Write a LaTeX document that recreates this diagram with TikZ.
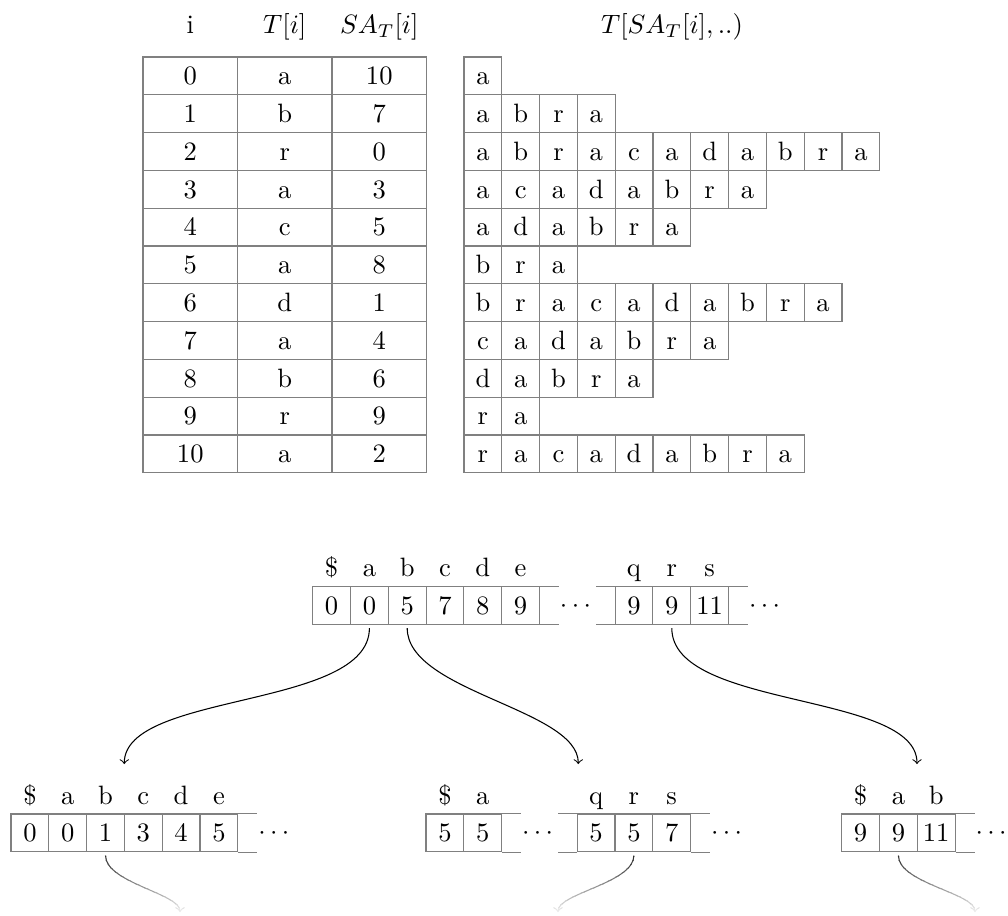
\documentclass[tikz,border=0pt]{standalone}
\begin{document}
\begin{tikzpicture}[x=0.013228cm, y=-0.013228cm,
  cell/.style={draw=black!50, minimum width=0.5cm, minimum height=0.5cm,
    inner sep=0pt, text height=6.6pt, text depth=0pt, anchor=center},
  wide/.style={cell, minimum width=1.25cm},
  lbl/.style={anchor=base, inner sep=0pt},
  stub/.style={draw=black!50},
  dotsnode/.style={anchor=base west, inner sep=0.4pt},
  link/.style={->, line width=0.4pt, shorten <=1.2pt, shorten >=4.5pt,
    looseness=0.75},
  glink/.style={link},
]
\useasboundingbox (0,0) rectangle (1008,916);

% column headers
\node[lbl] (hI)  at (190.25,33.5) {i};
\node[lbl] (hT)  at (284.75,33.5) {$T[i]$};
\node[lbl] (hSA) at (379.25,33.5) {$SA_T[i]$};
\node[lbl] (hSuf) at (672,33.5) {$T[SA_T[i],..)$};

% text and suffix array
\foreach \t/\s [count=\r from 0] in {a/10,b/7,r/0,a/3,c/5,a/8,d/1,a/4,b/6,r/9,a/2} {
  \node[wide] (L-\r-0) at (190.25,{75.9+37.8*\r}) {\r};
  \node[wide] (L-\r-1) at (284.75,{75.9+37.8*\r}) {\t};
  \node[wide] (L-\r-2) at (379.25,{75.9+37.8*\r}) {\s};
}

% sorted suffixes
\foreach \row [count=\r from 0] in {{a},{a,b,r,a},{a,b,r,a,c,a,d,a,b,r,a},
    {a,c,a,d,a,b,r,a},{a,d,a,b,r,a},{b,r,a},{b,r,a,c,a,d,a,b,r,a},
    {c,a,d,a,b,r,a},{d,a,b,r,a},{r,a},{r,a,c,a,d,a,b,r,a}} {
  \foreach \ch [count=\j from 0] in \row {
    \node[cell] (S-\r-\j) at ({482.9+37.8*\j},{75.9+37.8*\r}) {\ch};
  }
}

% first-level count array
\foreach \v/\l [count=\k from 0] in {0/\$,0/a,5/b,7/c,8/d,9/e} {
  \node[cell] (A\k) at ({331.6+37.8*\k},605.5) {\v};
  \node[lbl] (Al\k) at ({331.6+37.8*\k},576.7) {\l};
}
\draw[stub] (A5.north east) -- ++(18.9,0) (A5.south east) -- ++(18.9,0);
\node[dotsnode] (Ad1) at (558.4,612.1) {$\cdots$};
\foreach \v/\l [count=\k from 6] in {9/q,9/r,11/s} {
  \node[cell] (A\k) at ({634-37.8*6+37.8*\k},605.5) {\v};
  \node[lbl] (Al\k) at ({634-37.8*6+37.8*\k},576.7) {\l};
}
\draw[stub] (A6.north west) -- ++(-18.9,0) (A6.south west) -- ++(-18.9,0);
\draw[stub] (A8.north east) -- ++(18.9,0) (A8.south east) -- ++(18.9,0);
\node[dotsnode] (Ad2) at (747.4,612.1) {$\cdots$};

% second-level array for a
\foreach \v/\l [count=\k from 0] in {0/\$,0/a,1/b,3/c,4/d,5/e} {
  \node[cell] (B\k) at ({29.9+37.8*\k},832.9) {\v};
  \node[lbl] (Bl\k) at ({29.9+37.8*\k},804.5) {\l};
}
\draw[stub] (B5.north east) -- ++(18.9,0) (B5.south east) -- ++(18.9,0);
\node[dotsnode] (Bd1) at (256.7,839.5) {$\cdots$};

% second-level array for b
\foreach \v/\l [count=\k from 0] in {5/\$,5/a} {
  \node[cell] (C\k) at ({444.9+37.8*\k},832.9) {\v};
  \node[lbl] (Cl\k) at ({444.9+37.8*\k},804.5) {\l};
}
\draw[stub] (C1.north east) -- ++(18.9,0) (C1.south east) -- ++(18.9,0);
\node[dotsnode] (Cd1) at (520.5,839.5) {$\cdots$};
\foreach \v/\l [count=\k from 2] in {5/q,5/r,7/s} {
  \node[cell] (C\k) at ({596.1-37.8*2+37.8*\k},832.9) {\v};
  \node[lbl] (Cl\k) at ({596.1-37.8*2+37.8*\k},804.5) {\l};
}
\draw[stub] (C2.north west) -- ++(-18.9,0) (C2.south west) -- ++(-18.9,0);
\draw[stub] (C4.north east) -- ++(18.9,0) (C4.south east) -- ++(18.9,0);
\node[dotsnode] (Cd2) at (709.5,839.5) {$\cdots$};

% second-level array for r
\foreach \v/\l [count=\k from 0] in {9/\$,9/a,11/b} {
  \node[cell] (D\k) at ({860.6+37.8*\k},832.9) {\v};
  \node[lbl] (Dl\k) at ({860.6+37.8*\k},804.5) {\l};
}
\draw[stub] (D2.north east) -- ++(18.9,0) (D2.south east) -- ++(18.9,0);
\node[dotsnode] (Dd1) at (974,839.5) {$\cdots$};

% links from the first level to the second level
\coordinate (tipL) at (124.3,776);
\coordinate (tipM) at (578.3,776);
\coordinate (tipR) at (917,776);
\draw[link] (A1.south) to[out=-90,in=90] (tipL);
\draw[link] (A2.south) to[out=-90,in=90] (tipM);
\draw[link] (A7.south) to[out=-90,in=90] (tipR);

% links to the next level, fading out
\coordinate (gL) at (180,924);
\coordinate (gM) at (558,924);
\coordinate (gR) at (975,924);
\foreach \k in {0,...,16} {
  \pgfmathtruncatemacro\sh{92-5.5*\k}
  \begin{scope}
    \clip (0,{848+4*\k}) rectangle (1008,{852.4+4*\k});
    \draw[glink, draw=black!\sh] (B2.south) to[out=-90,in=90] (gL);
    \draw[glink, draw=black!\sh] (C3.south) to[out=-90,in=90] (gM);
    \draw[glink, draw=black!\sh] (D1.south) to[out=-90,in=90] (gR);
  \end{scope}
}
\end{tikzpicture}
\end{document}
